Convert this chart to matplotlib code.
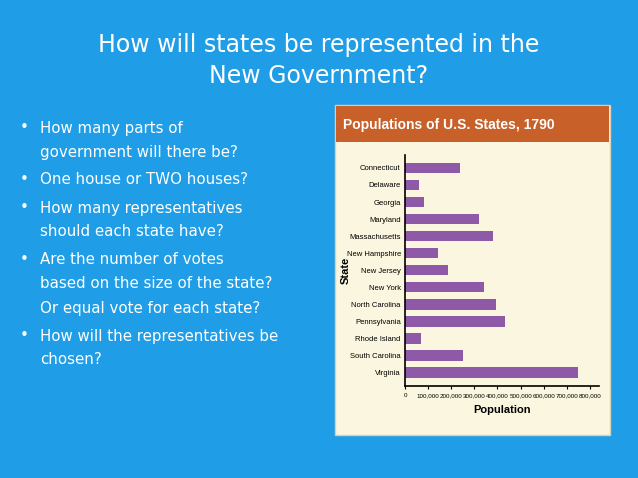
import matplotlib
matplotlib.use('Agg')
import matplotlib.pyplot as plt
from matplotlib.patches import Rectangle

states = ['Connecticut', 'Delaware', 'Georgia', 'Maryland', 'Massachusetts', 'New Hampshire',
          'New Jersey', 'New York', 'North Carolina', 'Pennsylvania', 'Rhode Island',
          'South Carolina', 'Virginia']
population = [238000, 59000, 83000, 320000, 379000, 142000, 184000, 340000, 394000, 434000,
              69000, 249000, 748000]
xticks = list(range(0, 800001, 100000))
xtick_labels = ['0'] + [f'{v:,}' for v in xticks[1:]]

bullets = ['How many parts of\ngovernment will there be?',
           'One house or TWO houses?',
           'How many representatives\nshould each state have?',
           'Are the number of votes\nbased on the size of the state?\nOr equal vote for each state?',
           'How will the representatives be\nchosen?']

W, H = 638, 478
fig = plt.figure(figsize=(W / 100, H / 100), dpi=100)
fig.patch.set_facecolor('#1f9de6')

def fx(px): return px / W
def fy(py): return 1 - py / H

fig.text(0.5, fy(45), 'How will states be represented in the', color='white', fontsize=17,
         ha='center', va='center', family='DejaVu Sans')
fig.text(0.5, fy(76), 'New Government?', color='white', fontsize=17,
         ha='center', va='center', family='DejaVu Sans')

y = 128
for b in bullets:
    n = b.count('\n') + 1
    fig.text(fx(20), fy(y), '•', color='white', fontsize=11, va='center')
    for i, line in enumerate(b.split('\n')):
        fig.text(fx(40), fy(y + 24 * i), line, color='white', fontsize=10.8, va='center',
                 family='DejaVu Sans')
    y += 24 * n + 4

# chart card
fig.patches.append(Rectangle((fx(335), fy(435)), fx(275), (435 - 105) / H,
                             transform=fig.transFigure, facecolor='#fbf6df',
                             edgecolor='#d8d0b8', lw=1, zorder=-2))
fig.patches.append(Rectangle((fx(336), fy(142)), fx(273), (142 - 106) / H,
                             transform=fig.transFigure, facecolor='#c8602a', lw=0, zorder=-1))
fig.text(fx(343), fy(125), 'Populations of U.S. States, 1790', color='white', fontsize=10,
         fontweight='bold', va='center', family='Liberation Sans')

ax = fig.add_axes([fx(405), fy(386), fx(194), (386 - 155) / H])
ax.set_zorder(5)
ax.set_facecolor('none')
ax.barh(states, population, height=0.62, color='#8e5aa8')
ax.set_ylim(12.8, -0.76)
ax.set_xlim(0, 839000)
ax.set_xticks(xticks)
ax.set_xticklabels(xtick_labels, fontsize=4.5, family='Liberation Sans')
ax.tick_params(axis='y', labelsize=5.5, length=0, pad=3)
ax.tick_params(axis='x', length=2, pad=3)
for lab in ax.get_yticklabels():
    lab.set_family('Liberation Sans')
ax.spines['top'].set_visible(False)
ax.spines['right'].set_visible(False)
ax.spines['left'].set_linewidth(1.2)
ax.spines['bottom'].set_linewidth(1.2)
ax.set_xlabel('Population', fontsize=8, fontweight='bold', family='Liberation Sans', labelpad=5)
fig.text(fx(346), fy(270), 'State', rotation=90, fontsize=8, fontweight='bold',
         ha='center', va='center', family='Liberation Sans')

fig.savefig('out.png', dpi=100, facecolor=fig.get_facecolor())
